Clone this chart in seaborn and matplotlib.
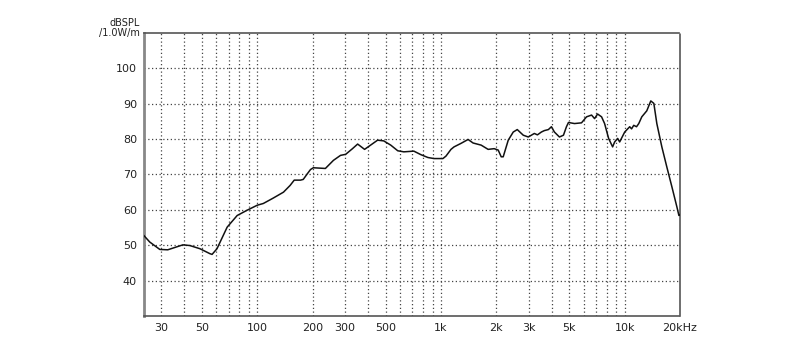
import numpy as np
import pandas as pd
import matplotlib
matplotlib.use("Agg")
import matplotlib.pyplot as plt
import seaborn as sns
from matplotlib.ticker import FixedLocator, NullFormatter

# ---- data ----
freq_hz = [24.1, 26.0, 29.5, 32.6, 39.4, 43.0, 48.8, 55.3, 56.8, 60.4, 68.6, 77.8,
           88.2, 100, 108, 122, 139, 151, 159, 172, 178, 188, 195, 202, 235, 260,
           284, 303, 330, 352, 384, 414, 452, 488, 533, 582, 628, 712, 778, 849,
           916, 1025, 1065, 1134, 1178, 1286, 1405, 1496, 1655, 1806, 1948, 2049,
           2128, 2182, 2324, 2474, 2602, 2806, 2988, 3223, 3350, 3519, 3650, 3843,
           3992, 4145, 4414, 4642, 4820, 4943, 5332, 5821, 6199, 6603, 6857, 7119,
           7486, 7774, 8175, 8597, 8817, 9157, 9390, 10000, 10650, 10900, 11200,
           11600, 11930, 12390, 13190, 13870, 14410, 14960, 15930, 16960, 18070,
           19240, 19730, 20000]
spl_db = [52.8, 50.9, 48.8, 48.7, 50.1, 49.9, 49.0, 47.6, 47.4, 49.0, 55.1, 58.4,
          59.9, 61.3, 61.8, 63.3, 65.0, 66.9, 68.4, 68.4, 68.6, 70.3, 71.4, 71.9,
          71.7, 74.0, 75.4, 75.7, 77.3, 78.6, 77.1, 78.3, 79.7, 79.5, 78.3, 76.7,
          76.4, 76.6, 75.6, 74.8, 74.5, 74.5, 75.2, 77.1, 77.8, 78.8, 79.9, 78.9,
          78.3, 77.1, 77.3, 76.9, 75.0, 75.0, 79.7, 82.0, 82.7, 81.1, 80.6, 81.6,
          81.2, 82.0, 82.4, 82.7, 83.5, 82.0, 80.6, 81.1, 83.5, 84.7, 84.4, 84.6,
          86.3, 86.8, 85.8, 87.1, 86.3, 84.4, 80.2, 77.8, 79.2, 80.2, 79.2, 82.0,
          83.5, 82.9, 83.9, 83.5, 84.4, 86.3, 88.0, 90.8, 90.1, 84.4, 77.8, 72.1,
          66.5, 60.8, 58.4, 58.7]

x_grid = [30, 40, 50, 60, 70, 80, 90, 100, 200, 300, 400, 500, 600, 700, 800, 900,
          1000, 2000, 3000, 4000, 5000, 6000, 7000, 8000, 9000, 10000]
x_tick_pos = [30, 50, 100, 200, 300, 500, 1000, 2000, 3000, 5000, 10000, 20000]
x_tick_lbl = ["30", "50", "100", "200", "300", "500", "1k", "2k", "3k", "5k", "10k", "20kHz"]
y_ticks = [40, 50, 60, 70, 80, 90, 100]

df = pd.DataFrame({"freq": freq_hz, "spl": spl_db})

sns.set_style("white")
plt.rcParams["font.family"] = ["DejaVu Sans"]

fig = plt.figure(figsize=(8.0, 3.59), dpi=100)
ax = fig.add_axes([0.18, 0.12, 0.67, 0.788])

grid_kw = dict(color="#444444", lw=0.9, linestyle=(0, (1, 2)), zorder=1)
for xv in x_grid:
    ax.axvline(xv, **grid_kw)
for yv in y_ticks:
    ax.axhline(yv, **grid_kw)

sns.lineplot(data=df, x="freq", y="spl", ax=ax, color="#111111", lw=1.1,
             sort=False, estimator=None, zorder=3)

ax.set_xscale("log")
ax.set_xlim(24.2, 20000)
ax.set_ylim(30, 110)
ax.xaxis.set_major_locator(FixedLocator(x_tick_pos))
ax.set_xticklabels(x_tick_lbl)
ax.xaxis.set_minor_formatter(NullFormatter())
ax.xaxis.set_minor_locator(FixedLocator([]))
ax.set_yticks(y_ticks)
ax.tick_params(axis="both", length=0, labelsize=8, colors="#222222", pad=5)
ax.set_xlabel("")
ax.set_ylabel("")

for side in ["top", "bottom", "right"]:
    ax.spines[side].set_visible(True)
    ax.spines[side].set_linestyle((0, (1, 1)))
    ax.spines[side].set_color("#555555")
    ax.spines[side].set_linewidth(1.2)
ax.spines["left"].set_color("#888888")
ax.spines["left"].set_linewidth(2.0)

fig.text(0.175, 0.895, "dBSPL\n/1.0W/m", ha="right", va="bottom", fontsize=7,
         color="#222222", linespacing=1.0)

fig.savefig("out.png", dpi=100)
